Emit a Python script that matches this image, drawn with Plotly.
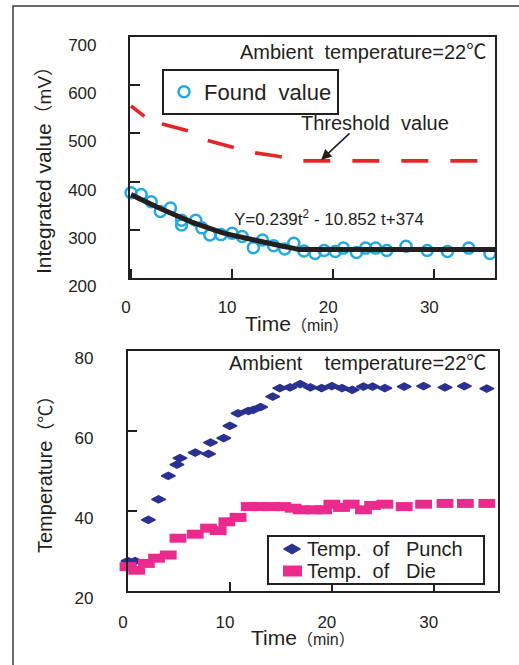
import plotly.graph_objects as go

W, H = 519, 665

# --- Upper panel: integrated value (mV) against time (min) ---
found_t = [0.0, 1.0, 2.0, 2.9, 3.9, 5.0, 5.0, 6.4, 7.0, 7.8, 8.9, 10.0, 11.0, 12.1,
           13.0, 14.1, 15.2, 16.1, 17.1, 18.2, 19.1, 20.2, 21.0, 22.3, 23.2, 24.2,
           25.3, 27.2, 29.3, 31.3, 33.4, 35.5]
found_v = [377, 373, 358, 338, 345, 320, 310, 320, 304, 289, 290, 293, 286, 263,
           279, 267, 260, 272, 256, 251, 257, 255, 262, 253, 262, 262,
           257, 266, 257, 255, 262, 251]

fit_t = [0, 1, 2, 3, 4, 5, 6, 7, 8, 9, 10, 11, 12, 13, 14, 15, 16, 16.6, 36]
fit_v = [373, 364, 353, 343, 333, 325, 316, 308, 300, 294, 289, 284, 279, 274,
         270, 266, 262, 259, 259]

thr_t = [0, 1.4, 3.2, 5.7, 7.5, 9.8, 11.8, 14.4, 16.8, 36]
thr_v = [557, 534, 519, 505, 486, 472, 461, 453, 443, 443]

# --- Lower panel: punch and die temperature (°C) against time (min) ---
punch_t = [0.0, 0.7, 2.0, 3.0, 3.95, 4.8, 5.1, 6.6, 7.9, 8.1, 9.4, 10.0, 10.8, 11.8,
           12.3, 13.0, 14.2, 14.9, 15.9, 16.9, 17.9, 19.0, 20.0, 21.0, 22.0, 23.1,
           24.0, 25.2, 27.1, 29.0, 31.1, 33.0, 35.2]
punch_v = [27.5, 27.5, 37.8, 42.9, 48.8, 51.6, 53.2, 54.6, 54.3, 57.1, 58.2, 61.3,
           64.4, 65.0, 65.3, 66.0, 68.6, 70.7, 70.9, 71.7, 70.9, 70.7, 71.2, 70.7,
           70.3, 71.1, 71.1, 70.7, 71.1, 71.2, 70.9, 71.2, 70.6]

die_t = [0.0, 0.85, 1.8, 2.8, 3.95, 4.9, 6.6, 7.9, 8.85, 9.7, 10.8, 11.9, 12.9, 14.1,
         15.2, 16.2, 17.0, 18.2, 19.2, 20.0, 20.95, 21.9, 23.1, 24.0, 25.2, 27.1,
         29.0, 31.1, 33.1, 35.2]
die_v = [26.1, 25.2, 26.9, 28.2, 29.0, 33.2, 34.2, 35.7, 35.1, 37.3, 38.4, 41.1,
         41.1, 41.1, 41.1, 40.7, 40.3, 40.3, 40.3, 41.7, 40.9, 41.7, 40.3, 41.4,
         41.7, 41.1, 41.7, 41.9, 41.9, 41.9]

x_ticks = [0, 10, 20, 30]

INK = "#231f20"
CYAN = "#22a9e1"
RED = "#e4262b"
NAVY = "#2b3190"
PINK = "#ec2a8e"
FONT = "Liberation Sans, Arial, Noto Sans CJK SC, sans-serif"


def px(x):
    return x / W


def py(y):
    return 1 - y / H


# dashes: a short first dash, then a regular long-dash rhythm
thr_dash = "17px,19px," + ",".join(["27px,22px"] * 9)

fig = go.Figure()

fig.add_trace(go.Scatter(
    x=thr_t, y=thr_v, mode="lines", showlegend=False,
    line=dict(color=RED, width=3.6, dash=thr_dash),
    xaxis="x", yaxis="y"))

fig.add_trace(go.Scatter(
    x=found_t, y=found_v, mode="markers", name="Found&nbsp;&nbsp;value",
    marker=dict(symbol="circle-open", size=11, color=CYAN,
                line=dict(color=CYAN, width=2.5)),
    cliponaxis=False, legend="legend", xaxis="x", yaxis="y"))

fig.add_trace(go.Scatter(
    x=fit_t, y=fit_v, mode="lines", showlegend=False,
    line=dict(color=INK, width=5),
    xaxis="x", yaxis="y"))

fig.add_trace(go.Scatter(
    x=punch_t, y=punch_v, mode="markers", name="Temp. of Punch",
    marker=dict(symbol="diamond-wide", size=10, color=NAVY,
                line=dict(color=NAVY, width=1.5)),
    cliponaxis=False, showlegend=False, xaxis="x2", yaxis="y2"))

fig.add_trace(go.Scatter(
    x=die_t, y=die_v, mode="markers", name="Temp. of Die",
    marker=dict(symbol="line-ew", size=12, color=PINK,
                line=dict(color=PINK, width=9)),
    cliponaxis=False, showlegend=False, xaxis="x2", yaxis="y2"))

axis_common = dict(
    showline=True, mirror=True, linecolor=INK, linewidth=2.2,
    ticks="inside", tickcolor=INK, tickwidth=1.6,
    showgrid=False, zeroline=False, automargin=False,
    tickfont=dict(family=FONT, size=17, color=INK),
)

fig.update_layout(
    width=W, height=H,
    margin=dict(l=0, r=0, t=0, b=0, autoexpand=False),
    paper_bgcolor="white", plot_bgcolor="white",
    font=dict(family=FONT, color=INK),
    xaxis=dict(axis_common, domain=[px(130), px(495)], range=[-0.1, 36.0],
               tickvals=x_ticks, ticklen=9, anchor="y",
               ticklabelshift=-5, ticklabelstandoff=12),
    yaxis=dict(axis_common, domain=[py(278), py(37)], range=[200, 700],
               dtick=100, ticklen=10, anchor="x",
               ticklabelshift=8, ticklabelstandoff=28),
    xaxis2=dict(axis_common, domain=[px(128), px(498)], range=[0, 36.3],
                tickvals=x_ticks, ticklen=9, anchor="y2",
                ticklabelshift=-5, ticklabelstandoff=14),
    yaxis2=dict(axis_common, domain=[py(591), py(351)], range=[20, 80],
                dtick=20, ticklen=9, anchor="x2",
                ticklabelshift=7, ticklabelstandoff=29),
    legend=dict(x=px(162), y=py(69), xanchor="left", yanchor="top",
                bgcolor="white", bordercolor=INK, borderwidth=2,
                font=dict(family=FONT, size=22, color=INK)),
)

annotations = [
    dict(text="Ambient&nbsp;&nbsp;temperature=22℃", x=px(488), y=py(52),
         xanchor="right", yanchor="middle", font=dict(size=20)),
    dict(text="Threshold&nbsp;&nbsp;value", x=px(299), y=py(123),
         xanchor="left", yanchor="middle", font=dict(size=20)),
    dict(text="Y=0.239t<sup>2</sup> - 10.852 t+374", x=px(232), y=py(218),
         xanchor="left", yanchor="middle", font=dict(size=17)),
    dict(text="Time<span style='font-size:16px'>（min）</span>", x=px(297), y=py(323),
         xanchor="center", yanchor="middle", font=dict(size=21)),
    dict(text="Integrated value<span style='font-size:19px'>（mV）</span>",
         x=px(43), y=py(166), textangle=-90,
         xanchor="center", yanchor="middle", font=dict(size=21)),
    dict(text="Ambient&nbsp;&nbsp;&nbsp;&nbsp;temperature=22℃", x=px(488), y=py(363),
         xanchor="right", yanchor="middle", font=dict(size=20)),
    dict(text="Time<span style='font-size:16px'>（min）</span>", x=px(303), y=py(637),
         xanchor="center", yanchor="middle", font=dict(size=21)),
    dict(text="Temperature<span style='font-size:18px'>（℃）</span>",
         x=px(45), y=py(470), textangle=-90,
         xanchor="center", yanchor="middle", font=dict(size=20)),
    # key of the lower panel
    dict(text="Temp.&nbsp;&nbsp;of&nbsp;&nbsp;&nbsp;Punch", x=px(305), y=py(549),
         xanchor="left", yanchor="middle", font=dict(size=20)),
    dict(text="Temp.&nbsp;&nbsp;of&nbsp;&nbsp;&nbsp;Die", x=px(305), y=py(571),
         xanchor="left", yanchor="middle", font=dict(size=20)),
]
for a in annotations:
    a.update(xref="paper", yref="paper", showarrow=False)
    a["font"].update(family=FONT, color=INK)

# arrow pointing at the threshold line
annotations.append(dict(
    text="", x=18.8, y=445, xref="x", yref="y",
    ax=30, ay=-28, showarrow=True, arrowhead=2, arrowsize=1.3,
    arrowwidth=1.6, arrowcolor=INK))

fig.update_layout(annotations=annotations)

# outer border of the figure
fig.add_shape(type="rect", xref="paper", yref="paper",
              x0=px(13), x1=px(530), y0=-0.05, y1=py(6),
              line=dict(color="#3a3a3a", width=1.5), layer="below")

# key box of the lower panel with its two swatches
fig.add_shape(type="rect", xref="paper", yref="paper",
              x0=px(268), x1=px(484), y0=py(584), y1=py(536),
              line=dict(color=INK, width=2), fillcolor="white", layer="above")


def diamond_path(cx, cy, hw, hh):
    pts = [(cx - hw, cy), (cx, cy - hh), (cx + hw, cy), (cx, cy + hh)]
    return "M " + " L ".join(f"{px(x):.5f},{py(y):.5f}" for x, y in pts) + " Z"


fig.add_shape(type="path", xref="paper", yref="paper",
              path=diamond_path(292, 549, 8.5, 5),
              line=dict(color=NAVY, width=1), fillcolor=NAVY, layer="above")
fig.add_shape(type="rect", xref="paper", yref="paper",
              x0=px(283), x1=px(302), y0=py(576.5), y1=py(565.5),
              line=dict(color=PINK, width=0), fillcolor=PINK, layer="above")

fig.write_html("out.html")
